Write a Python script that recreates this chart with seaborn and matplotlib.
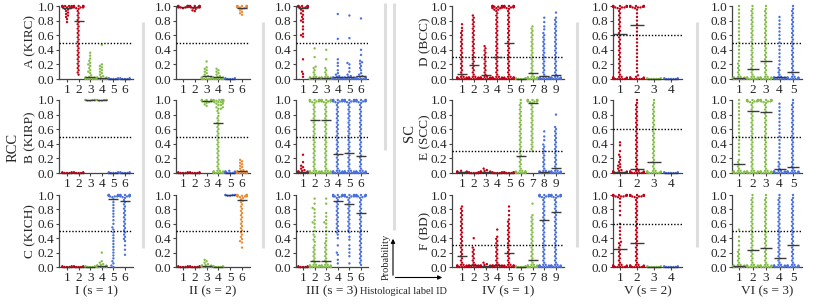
import warnings
import numpy as np
import pandas as pd
import seaborn as sns
import matplotlib.pyplot as plt
from matplotlib import font_manager

warnings.filterwarnings("ignore")
sns.set_style("ticks")
installed = set(e.name for e in font_manager.fontManager.ttflist)
serif = [f for f in ["Liberation Serif", "Tinos", "Times New Roman", "Nimbus Roman",
                     "STIX Two Text", "DejaVu Serif"] if f in installed]
plt.rcParams["font.family"] = serif[:1] + ["DejaVu Sans"]

RED, GREEN, BLUE, ORANGE = "#c00014", "#84bd48", "#4a70dc", "#ec8c32"

DENSE = [.03, .06, .09, .12, .15, .18, .21, .24, .27, .3, .33, .36, .39, .42, .45, .48,
         .51, .54, .57, .6, .63, .66, .69, .72, .75, .78, .81, .84, .87, .9, .93, .96]
SPARSE = [.05, .1, .15, .2, .25, .3, .35, .4, .45, .5, .55, .6, .65, .7, .75, .8, .85, .9, .95, 1.0]
SHAPES = {"B": [0, 0, 0, 0, 0, .01, .01, .01, .01, .02, .02, .02, .03],
          "T": [1, 1, 1, 1, 1, .99, .99, .99, .99, .98, .98, .98, .97],
          "f": [0, 0, 0, 0, 0, .01, .01],
          "F": [1, 1, 1, 1, 1, .99, .99]}

# ---- RCC ----
I_cats = ["1", "2", "3", "4", "5", "6"]
I_colors = [RED, RED, GREEN, GREEN, BLUE, BLUE]
I_A = ["T .96 .95 .93 .91 .89 .87 .85 .82 .78", "T ~.06:.96",
       "B .05 .08 .1 .12 .15 .18 .2 .22 .25 .28 .32 .36", "B .04 .06 .08 .1 .12 .14 .16 .18 .2 .47",
       "f", "f"]
I_A_mean = [.97, .8, .03, .02, 0, 0]
I_B = ["f", "f", "F", "F", "f", "f"]
I_B_mean = [0, 0, 1, 1, 0, 0]
I_C = ["f", "f", "f", "B .04 .06 .08 .2",
       "T .94 .9 .86 .82 .78 .74 .7 .65 .6 .55 .52 .48 .44 .4 .36 .32 .28 .24 .2 .16 .12 .08 .05 .02 0",
       "T ~.39:.96 .36 .3 .24 .17"]
I_C_mean = [0, 0, 0, .02, .95, .92]

II_cats = ["1", "2", "3", "4", "5", "6"]
II_colors = [RED, RED, GREEN, GREEN, BLUE, ORANGE]
II_A = ["T", "T .96 .94 .93", "B .04 .06 .08 .1 .12 .14 .16 .24", "B .04 .06 .08 .1 .12 .14", "f",
        "T .96 .94 .92 .9 .88"]
II_A_mean = [.99, .98, .04, .03, 0, .97]
II_B = ["f", "f", "T .96 .94 .92",
        "T .97*2 .95*2 .93*2 .9*2 .88*2 .85 .82 ~.03:.8 B", "B",
        "B .04 .06 .08 .1 .12 .14 .16 .18"]
II_B_mean = [0, 0, .98, .68, 0, .03]
II_C = ["f", "f", "B .04 .06 .08 .1", "f", "F", "T .96 .94 .92 .9 ~.36:.87 .34 .27"]
II_C_mean = [0, 0, .02, 0, 1, .93]

III_cats = ["1", "2", "3", "4", "5", "6"]
III_colors = [RED, GREEN, GREEN, BLUE, BLUE, BLUE]
III_A = ["T .95 .93 .9 .88 .85 .82 .8 .78 .72 .68 .62 .6 .58 .27 .1 .07 .03",
         "B ~.03:.15 .17 .3 .42", "B ~.03:.15 .27 .4",
         "B .04 .06 .08 .12 .18 .22 .27 .55 .89", "B .04 .06 .1 .15 .2 .22 .56 .87",
         "B .04 .06 .08 .12 .15 .18 .21 .23 .25 .33 .4 .83"]
III_A_mean = [.97, .02, .02, .03, .03, .04]
III_B = ["B .04 .06 .08 .1 .15 .25", "T ~.03:.96 B", "T ~.03:.96 B",
         "T ~.03:.96 B", "T ~.03:.96 B", "T ~.03:.96 B"]
III_B_mean = [.02, .72, .72, .26, .27, .23]
III_C = ["f",
         "B ~.03:.3 .35 .38 .42 .45 .5 .55 .6 .62 .65 .7 .75 .8 .82 .88 .95",
         "B ~.03:.3 .33 .36 .4 .45 .5 .55 .6 .62 .65 .7 .75 .88 .95",
         "T ~.48:.96 .45 .4 .3 .2 .17 .1 .05", "T ~.48:.96 .42 .38 .3 .25 .2 .15 .05",
         "T ~.03:.96"]
III_C_mean = [0, .08, .08, .92, .88, .75]

# ---- SC ----
IV_cats = ["1", "2", "3", "4", "5", "6", "7", "8", "9"]
IV_colors = [RED, RED, RED, RED, RED, GREEN, GREEN, BLUE, BLUE]
IV_D = ["B ~.03:.63 .66 .7 .75", "B ~.03:.87", "B ~.03:.45", "T .97*2 .95*2 ~.03:.93 B",
        "T ~.03:.96 B", "f", "B ~.03:.72", "B ~.03:.63 .68 .72 .78 .84", "B ~.03:.84 .91"]
IV_D_mean = [.07, .19, .05, .3, .5, 0, .08, .04, .06]
IV_E = ["B", "f", "B .04 .06", "f", "f .01*2", "B ~.03:.96 1", "T ~.3:.96",
        "B ~.03:.39 .45 .5 .57", "B ~.03:.63 .8"]
IV_E_mean = [.01, 0, .01, 0, 0, .23, .96, .02, .07]
IV_F = ["B ~.03:.84", "B ~.03:.27 .4", "B .04 .06", "B ~.03:.42 .52", "B ~.03:.63 .66 .72 .78 .84",
        "f", "B ~.03:.72 .88", "T ~.03:.96 B", "T ~.03:.96 B"]
IV_F_mean = [.15, .03, .01, .03, .2, 0, .1, .65, .77]

V_cats = ["1", "2", "3", "4"]
V_colors = [RED, RED, GREEN, BLUE]
V_D = ["T ~.03:.96 B", "T ^.05:.95 B", "f", "f"]
V_D_mean = [.62, .74, 0, 0]
V_E = ["B .04 .06 .08 .1 .12 .15 .18 .22 .25 .3 .38 .42", "B ~.03:.96 1", "B ~.03:.96 1", "f"]
V_E_mean = [.02, .05, .15, 0]
V_F = ["T .95 .9 .85 .78 .72 .6 .55 .5 .45 .4 .35 ~.03:.33 B", "T ~.03:.96 B", "f", "f"]
V_F_mean = [.25, .34, 0, 0]

VI_cats = ["1", "2", "3", "4", "5"]
VI_colors = [GREEN, GREEN, GREEN, BLUE, BLUE]
VI_D = ["B ~.03:.21 ^.25:1", "B ~.03:.96 1", "B ~.03:.96 1", "B ~.03:.15 ^.2:.85", "B ~.03:.96 1"]
VI_D_mean = [.02, .14, .25, .03, .1]
VI_E = ["B ~.03:.2 ^.25:1", "T ~.03:.96 B", "T ~.03:.96 B", "B ~.03:.15 ^.2:.95", "B ~.03:.96 1"]
VI_E_mean = [.12, .85, .83, .05, .08]
VI_F = ["B ~.03:.24 .3 .36 .42 .52", "B ~.03:.96 1", "B ~.03:.96 1", "B ~.03:.96 1", "B ~.03:.96 1"]
VI_F_mean = [.02, .24, .27, .13, .31]


def parse(spec):
    vals = []
    for tok in spec.split():
        if tok in SHAPES:
            vals += SHAPES[tok]
        elif tok[0] in "~^":
            lo, hi = map(float, tok[1:].split(":"))
            grid = DENSE if tok[0] == "~" else SPARSE
            vals += [v for v in grid if lo - 1e-9 <= v <= hi + 1e-9]
        elif "*" in tok:
            v, n = tok.split("*")
            vals += [float(v)] * int(n)
        else:
            vals.append(float(tok))
    return vals


# layout in pixels: (left, right, first tick, last tick)
col_px = {"I": (59, 133, 67, 125), "II": (176, 250, 183, 242), "III": (296, 368, 303, 361),
          "IV": (452, 564, 462, 556), "V": (613, 682, 620, 671), "VI": (732, 802, 739, 793)}
row_px = [(6, 79), (100, 173), (195, 267)]
W, H = 830, 304

groups = [
    ("I", I_cats, I_colors, 0.5, [(I_A, I_A_mean), (I_B, I_B_mean), (I_C, I_C_mean)]),
    ("II", II_cats, II_colors, 0.5, [(II_A, II_A_mean), (II_B, II_B_mean), (II_C, II_C_mean)]),
    ("III", III_cats, III_colors, 0.5, [(III_A, III_A_mean), (III_B, III_B_mean), (III_C, III_C_mean)]),
    ("IV", IV_cats, IV_colors, 0.3, [(IV_D, IV_D_mean), (IV_E, IV_E_mean), (IV_F, IV_F_mean)]),
    ("V", V_cats, V_colors, 0.6, [(V_D, V_D_mean), (V_E, V_E_mean), (V_F, V_F_mean)]),
    ("VI", VI_cats, VI_colors, 0.5, [(VI_D, VI_D_mean), (VI_E, VI_E_mean), (VI_F, VI_F_mean)]),
]

fig = plt.figure(figsize=(W / 100, H / 100), dpi=100)

ov = fig.add_axes([0, 0, 1, 1])
ov.set_xlim(0, W)
ov.set_ylim(H, 0)
ov.axis("off")

# faint panel separators
for x, y0, y1 in [(143, 22, 248), (263, 22, 248), (394, 3, 230), (385, 3, 150),
                  (577, 22, 247), (697, 22, 247)]:
    ov.plot([x, x], [y0, y1], color="#dedede", lw=2.2, solid_capstyle="butt")

for name, cats, colors, thr, rows in groups:
    left, right, t0, t1 = col_px[name]
    n = len(cats)
    sp = (t1 - t0) / (n - 1)
    for r, (specs, means) in enumerate(rows):
        top, bot = row_px[r]
        ax = fig.add_axes([left / W, 1 - bot / H, (right - left) / W, (bot - top) / H])
        ax.patch.set_alpha(0)
        cat_col, p_col = [], []
        for c, spec in zip(cats, specs):
            v = parse(spec)
            cat_col += [c] * len(v)
            p_col += v
        df = pd.DataFrame({"cat": cat_col, "p": p_col})
        sns.swarmplot(data=df, x="cat", y="p", hue="cat", order=cats, hue_order=cats,
                      palette=colors, size=1.7, legend=False, ax=ax, warn_thresh=1)
        for coll in ax.collections:
            coll.set_clip_on(False)
        ms = (0.85 * sp * 0.72) ** 2
        ax.scatter(np.arange(n), means, marker="_", s=ms, color="#3a3a3a",
                   linewidths=1.0, zorder=5, clip_on=False)
        ax.axhline(thr, color="black", ls=(0, (1, 1.3)), lw=1.0, zorder=4)
        ax.set_xlim((left - t0) / sp, (right - t0) / sp)
        ax.set_ylim(0, 1)
        ax.set_yticks([0, .2, .4, .6, .8, 1.0])
        ax.set_yticklabels(["0.0", "0.2", "0.4", "0.6", "0.8", "1.0"])
        ax.set_xlabel("")
        ax.set_ylabel("")
        sns.despine(ax=ax)
        for s in ["left", "bottom"]:
            ax.spines[s].set_linewidth(0.9)
            ax.spines[s].set_color("#444444")
        ax.tick_params(labelsize=9.5, length=2.5, width=0.8, pad=1, color="#444444")

# row / group labels
for y, s in [(42, "A (KIRC)"), (137, "B (KIRP)"), (231, "C (KICH)")]:
    ov.text(30, y, s, rotation=90, ha="center", va="center", fontsize=9.5)
for y, s in [(42, "D (BCC)"), (137, "E (SCC)"), (231, "F (BD)")]:
    ov.text(425, y, s, rotation=90, ha="center", va="center", fontsize=9.5)
ov.text(13, 147, "RCC", rotation=90, ha="center", va="center", fontsize=10.5)
ov.text(409, 133, "SC", rotation=90, ha="center", va="center", fontsize=10.5)

for name, s in [("I", "I (s = 1)"), ("II", "II (s = 2)"), ("III", "III (s = 3)"),
                ("IV", "IV (s = 1)"), ("V", "V (s = 2)"), ("VI", "VI (s = 3)")]:
    left, right = col_px[name][:2]
    ov.text((left + right) / 2, 291, s, ha="center", va="center", fontsize=9.5)

# axis legend arrows
ov.annotate("", xy=(393, 236), xytext=(393, 278),
            arrowprops=dict(arrowstyle="-|>", lw=0.8, color="black", mutation_scale=6))
ov.annotate("", xy=(445, 277.5), xytext=(392.6, 277.5),
            arrowprops=dict(arrowstyle="-|>", lw=0.8, color="black", mutation_scale=6))
ov.text(386, 257, "Probability", rotation=90, ha="center", va="center", fontsize=7.5)
ov.text(403, 291, "Histological label ID", ha="center", va="center", fontsize=7.5)

fig.savefig("out.png", dpi=100)
